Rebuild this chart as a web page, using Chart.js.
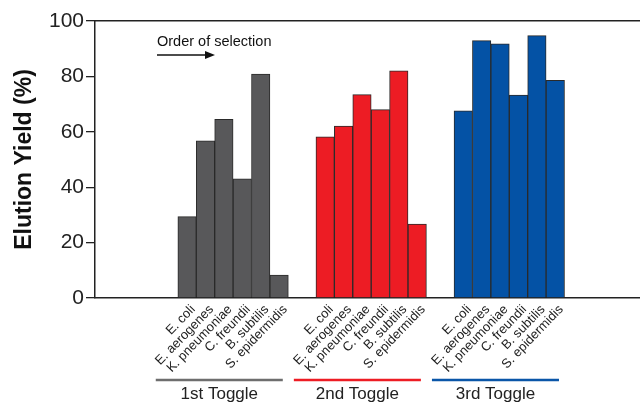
<!DOCTYPE html>
<html>
<head>
<meta charset="utf-8">
<script src="https://cdn.jsdelivr.net/npm/chart.js@4"></script>
<style>
  body { margin: 0; background: #fff; }
  #wrap { width: 640px; height: 403px; position: relative; }
</style>
</head>
<body>
<div id="wrap"><canvas id="chartBar"></canvas></div>
<script>
const species = ["E. coli", "E. aerogenes", "K. pneumoniae", "C. freundii", "B. subtilis", "S. epidermidis"];
const toggles = ["1st Toggle", "2nd Toggle", "3rd Toggle"];
const firstToggle = [29.4, 56.7, 64.5, 43.0, 80.8, 8.3];
const secondToggle = [58.2, 62.1, 73.4, 68.0, 82.0, 26.7];
const thirdToggle = [67.6, 92.9, 91.8, 73.3, 94.7, 78.6];
const groupStart = [0, 7.5, 15];
const yTicks = [0, 20, 40, 60, 80, 100];

const colors = ["#58585a", "#ed1c24", "#0452a5"];
const lineColors = ["#6e6e6e", "#ed1c24", "#0a56a8"];
const seriesValues = [firstToggle, secondToggle, thirdToggle];

// each bar sits one unit apart inside its toggle
const xPos = [];
groupStart.forEach(g => species.forEach((s, i) => xPos.push(g + i)));

const datasets = seriesValues.map((vals, k) => ({
  label: toggles[k],
  data: vals.map((v, i) => ({ x: groupStart[k] + i, y: v })),
  backgroundColor: colors[k],
  borderColor: "#2a2a2a",
  borderWidth: 1,
  borderSkipped: "bottom",
  grouped: false,
  barPercentage: 1,
  categoryPercentage: 1,
}));

// toggle brackets under the labels + "Order of selection" arrow
const extras = {
  id: "extras",
  afterDraw(chart) {
    const ctx = chart.ctx;
    const x = chart.scales.x;
    const area = chart.chartArea;
    ctx.save();
    groupStart.forEach((g, k) => {
      const x0 = x.getPixelForValue(g - 1.7);
      const x1 = x.getPixelForValue(g + species.length - 1 + 0.2);
      ctx.strokeStyle = lineColors[k];
      ctx.lineWidth = 2.5;
      ctx.beginPath();
      ctx.moveTo(x0, 380);
      ctx.lineTo(x1, 380);
      ctx.stroke();
      ctx.fillStyle = "#222";
      ctx.font = "17px 'Liberation Sans', Arial, sans-serif";
      ctx.textAlign = "center";
      ctx.textBaseline = "middle";
      ctx.fillText(toggles[k], (x0 + x1) / 2, 394);
    });

    const ax = area.left + 62;
    ctx.fillStyle = "#111";
    ctx.font = "14.5px 'Liberation Sans', Arial, sans-serif";
    ctx.textAlign = "left";
    ctx.textBaseline = "alphabetic";
    ctx.fillText("Order of selection", ax, 46);
    ctx.strokeStyle = "#111";
    ctx.lineWidth = 1.3;
    ctx.beginPath();
    ctx.moveTo(ax, 55);
    ctx.lineTo(ax + 50, 55);
    ctx.stroke();
    ctx.beginPath();
    ctx.moveTo(ax + 58, 55);
    ctx.lineTo(ax + 48, 51);
    ctx.lineTo(ax + 48, 59);
    ctx.closePath();
    ctx.fill();
    ctx.restore();
  },
};

new Chart(document.getElementById("chartBar"), {
  type: "bar",
  data: { datasets },
  plugins: [extras],
  options: {
    responsive: true,
    maintainAspectRatio: false,
    animation: false,
    layout: { padding: 0 },
    plugins: { legend: { display: false }, tooltip: { enabled: false } },
    scales: {
      x: {
        type: "linear",
        offset: false,
        min: -5,
        max: 24.6,
        grid: { display: false, drawTicks: false },
        border: { display: true, color: "#222", width: 1.5 },
        afterBuildTicks: s => { s.ticks = xPos.map(v => ({ value: v })); },
        afterFit: s => { s.height = 105; },
        ticks: {
          autoSkip: false,
          minRotation: 46,
          maxRotation: 46,
          padding: 4,
          labelOffset: 6,
          color: "#222",
          font: { family: "'Liberation Sans', Arial, sans-serif", size: 13 },
          callback: (v, i) => species[i % species.length],
        },
      },
      x2: {
        type: "linear",
        position: "top",
        offset: false,
        min: -5,
        max: 24.6,
        grid: { display: false },
        border: { display: true, color: "#222", width: 1.5 },
        ticks: { display: false },
        afterFit: s => { s.height = 21; },
      },
      y: {
        min: 0,
        max: 100,
        afterBuildTicks: s => { s.ticks = yTicks.map(v => ({ value: v })); },
        afterFit: s => { s.width = 95; },
        grid: { drawOnChartArea: false, drawTicks: true, tickLength: 9, color: "#222", lineWidth: 1.3 },
        border: { display: true, color: "#222", width: 1.5 },
        ticks: {
          padding: 2,
          color: "#222",
          font: { family: "'Liberation Sans', Arial, sans-serif", size: 21 },
        },
        title: {
          display: true,
          text: "Elution Yield (%)",
          color: "#111",
          padding: { top: 11, bottom: 0 },
          font: { family: "'Liberation Sans', Arial, sans-serif", size: 23, weight: "bold" },
        },
      },
    },
  },
});
</script>
</body>
</html>
